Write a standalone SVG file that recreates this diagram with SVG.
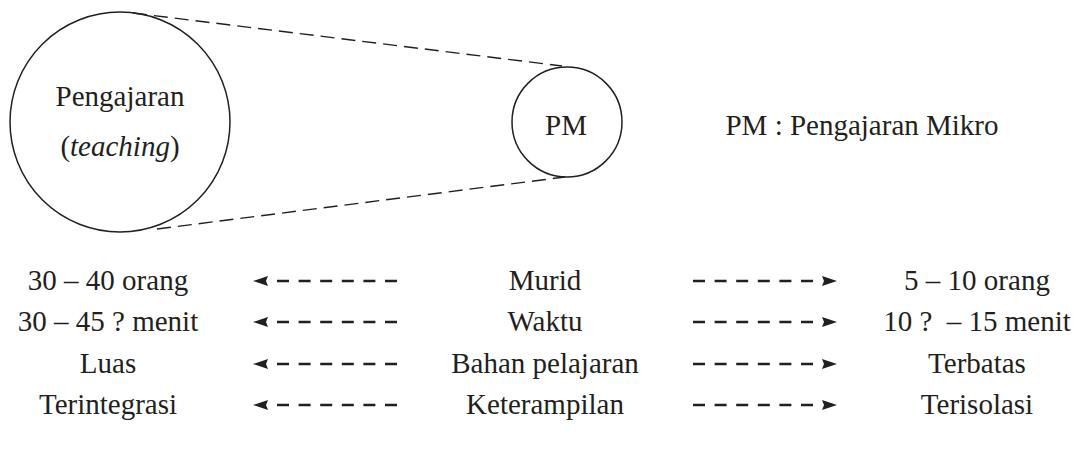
<svg xmlns="http://www.w3.org/2000/svg" width="1083" height="451" viewBox="0 0 1083 451">
<defs>
<marker id="ah" viewBox="0 -7 26 14" markerWidth="26" markerHeight="14" refX="0" refY="0" orient="auto" markerUnits="userSpaceOnUse">
<path d="M9,-5 L24,0 L9,5 L11,0 Z" fill="#231f20"/>
</marker>
</defs>
<rect width="1083" height="451" fill="#fff"/>
<g id="connectors" fill="none" stroke="#231f20">
<line stroke-width="1.4" stroke-dasharray="14 7" x1="133" y1="13" x2="562" y2="66"/>
<line stroke-width="1.4" stroke-dasharray="14 7" x1="157" y1="229" x2="565" y2="177"/>
<g stroke-width="2.6" stroke-dasharray="12 9.6" marker-end="url(#ah)">
<line x1="397" y1="281" x2="277" y2="281"/>
<line x1="693" y1="281" x2="813" y2="281"/>
<line x1="397" y1="322" x2="277" y2="322"/>
<line x1="693" y1="322" x2="813" y2="322"/>
<line x1="397" y1="364" x2="277" y2="364"/>
<line x1="693" y1="364" x2="813" y2="364"/>
<line x1="397" y1="405" x2="277" y2="405"/>
<line x1="693" y1="405" x2="813" y2="405"/>
</g>
</g>
<g id="pengajaran">
<circle fill="none" stroke="#231f20" stroke-width="1.5" cx="120" cy="122" r="110"/>
<text x="120" y="106" font-family="Liberation Serif" font-size="29" fill="#231f20" text-anchor="middle">Pengajaran</text>
<text x="120" y="156" font-family="Liberation Serif" font-size="29" fill="#231f20" text-anchor="middle">(<tspan font-style="italic">teaching</tspan>)</text>
</g>
<g id="pm">
<circle fill="none" stroke="#231f20" stroke-width="1.5" cx="567" cy="122" r="55"/>
<text x="566" y="135" font-family="Liberation Serif" font-size="29" fill="#231f20" text-anchor="middle">PM</text>
</g>
<g id="legend">
<text x="862" y="135" font-family="Liberation Serif" font-size="29" fill="#231f20" text-anchor="middle">PM : Pengajaran Mikro</text>
</g>
<g id="left-col">
<text x="108" y="290" font-family="Liberation Serif" font-size="29" fill="#231f20" text-anchor="middle">30 – 40 orang</text>
<text x="108" y="331" font-family="Liberation Serif" font-size="29" fill="#231f20" text-anchor="middle">30 – 45 ? menit</text>
<text x="108" y="373" font-family="Liberation Serif" font-size="29" fill="#231f20" text-anchor="middle">Luas</text>
<text x="108" y="414" font-family="Liberation Serif" font-size="29" fill="#231f20" text-anchor="middle">Terintegrasi</text>
</g>
<g id="center-col">
<text x="545" y="290" font-family="Liberation Serif" font-size="29" fill="#231f20" text-anchor="middle">Murid</text>
<text x="545" y="331" font-family="Liberation Serif" font-size="29" fill="#231f20" text-anchor="middle">Waktu</text>
<text x="545" y="373" font-family="Liberation Serif" font-size="29" fill="#231f20" text-anchor="middle">Bahan pelajaran</text>
<text x="545" y="414" font-family="Liberation Serif" font-size="29" fill="#231f20" text-anchor="middle">Keterampilan</text>
</g>
<g id="right-col">
<text x="977" y="290" font-family="Liberation Serif" font-size="29" fill="#231f20" text-anchor="middle">5 – 10 orang</text>
<text x="977" y="331" font-family="Liberation Serif" font-size="29" fill="#231f20" text-anchor="middle" xml:space="preserve">10 ?  – 15 menit</text>
<text x="977" y="373" font-family="Liberation Serif" font-size="29" fill="#231f20" text-anchor="middle">Terbatas</text>
<text x="977" y="414" font-family="Liberation Serif" font-size="29" fill="#231f20" text-anchor="middle">Terisolasi</text>
</g>
</svg>
